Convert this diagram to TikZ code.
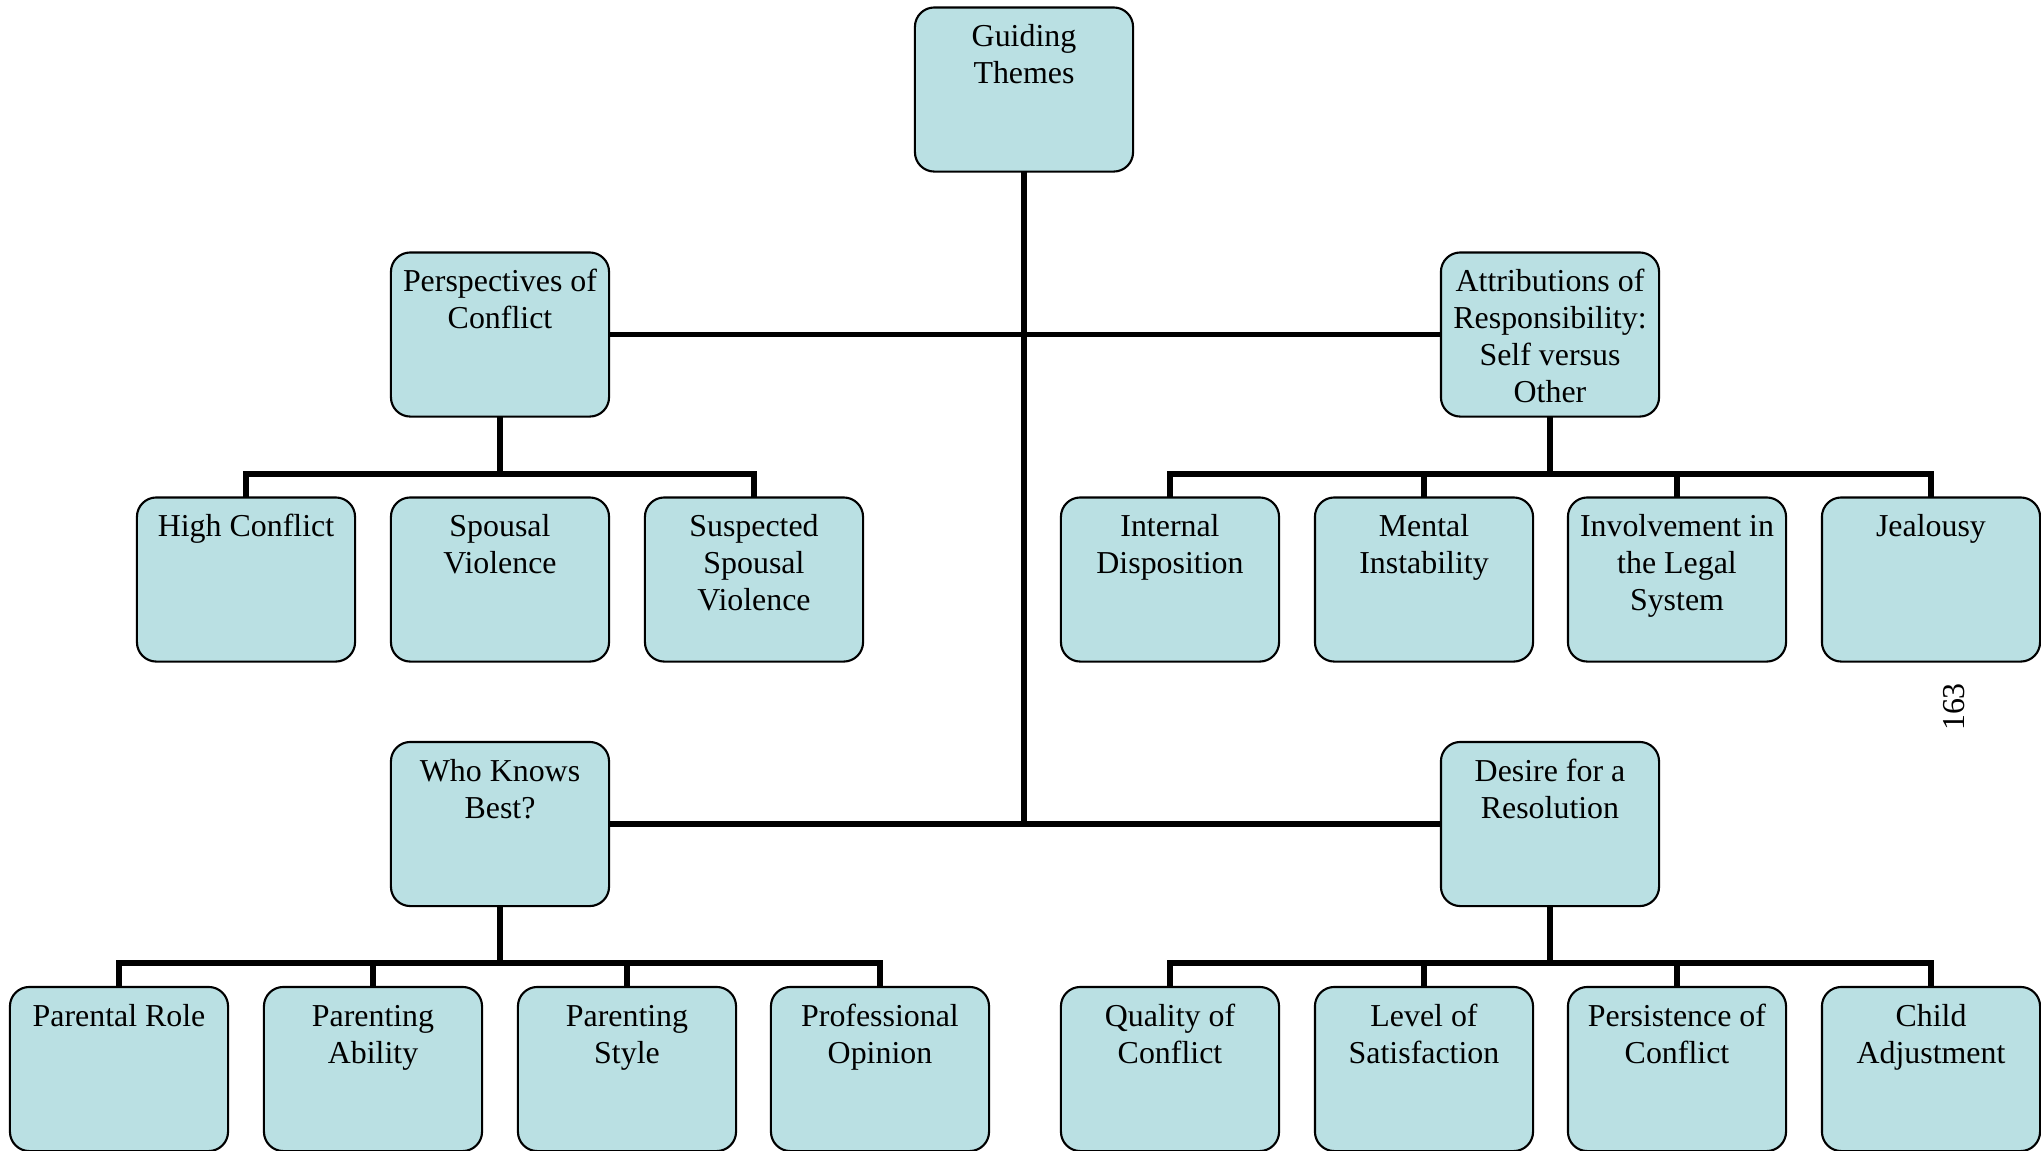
\documentclass[tikz,border=0pt]{standalone}
\usepackage{fontspec}
\setmainfont{Liberation Serif}
\usetikzlibrary{calc}
\definecolor{boxfill}{RGB}{186,224,227}
\newcommand{\boxtext}[1]{\begin{tabular}[t]{@{}c@{}}#1\end{tabular}}
\tikzset{
  box/.style={draw=black, line width=0.6pt, fill=boxfill, rounded corners=5.5pt,
    minimum width=2.18cm, minimum height=1.64cm, inner sep=0pt},
  lbl/.style={anchor=base, inner sep=0pt,
    font=\fontsize{9.07pt}{10.45pt}\selectfont},
  conn/.style={line width=1.6pt, line cap=butt}
}
\begin{document}
\begin{tikzpicture}[x=0.01cm, y=-0.01cm]
\useasboundingbox (0,0) rectangle (2041,1150);
% coordinates for buses
\coordinate (trunkB) at (1024,824);
% connectors
\draw[conn] (1024,172) -- (trunkB);
\draw[conn] (610,334.5) -- (1441,334.5);
\draw[conn] (610,824) -- (1441,824);
% Perspectives bus
\draw[conn] (500,416) -- (500,474);
\draw[conn] (246,497) -- (246,474) -- (754,474) -- (754,497);
% Attributions bus
\draw[conn] (1550,416) -- (1550,474);
\draw[conn] (1170,497) -- (1170,474) -- (1931,474) -- (1931,497);
\draw[conn] (1424,474) -- (1424,497);
\draw[conn] (1677,474) -- (1677,497);
% Who knows bus
\draw[conn] (500,906) -- (500,963);
\draw[conn] (119,987) -- (119,963) -- (880,963) -- (880,987);
\draw[conn] (373,963) -- (373,987);
\draw[conn] (627,963) -- (627,987);
% Desire bus
\draw[conn] (1550,906) -- (1550,963);
\draw[conn] (1170,987) -- (1170,963) -- (1931,963) -- (1931,987);
\draw[conn] (1424,963) -- (1424,987);
\draw[conn] (1677,963) -- (1677,987);

% boxes
\node[box] (gt) at (1024,89.5) {};
\node[box] (persp) at (500,334.5) {};
\node[box] (attr) at (1550,334.5) {};
\node[box] (who) at (500,824) {};
\node[box] (des) at (1550,824) {};
\node[box] (hc) at (246,579.5) {};
\node[box] (sv) at (500,579.5) {};
\node[box] (ssv) at (754,579.5) {};
\node[box] (id) at (1170,579.5) {};
\node[box] (mi) at (1424,579.5) {};
\node[box] (ils) at (1677,579.5) {};
\node[box] (jeal) at (1931,579.5) {};
\node[box] (pr) at (119,1069) {};
\node[box] (pa) at (373,1069) {};
\node[box] (ps) at (627,1069) {};
\node[box] (po) at (880,1069) {};
\node[box] (qc) at (1170,1069) {};
\node[box] (ls) at (1424,1069) {};
\node[box] (pc) at (1677,1069) {};
\node[box] (ca) at (1931,1069) {};

% labels
\node[lbl] (gt-t) at ($(gt.north)+(0,40.5)$) {\boxtext{Guiding\\Themes}};
\node[lbl] (persp-t) at ($(persp.north)+(0,40.5)$) {\boxtext{Perspectives of\\Conflict}};
\node[lbl] (attr-t) at ($(attr.north)+(0,40.5)$) {\boxtext{Attributions of\\Responsibility:\\Self versus\\Other}};
\node[lbl] (who-t) at ($(who.north)+(0,40.5)$) {\boxtext{Who Knows\\Best?}};
\node[lbl] (des-t) at ($(des.north)+(0,40.5)$) {\boxtext{Desire for a\\Resolution}};
\node[lbl] (hc-t) at ($(hc.north)+(0,40.5)$) {\boxtext{High Conflict}};
\node[lbl] (sv-t) at ($(sv.north)+(0,40.5)$) {\boxtext{Spousal\\Violence}};
\node[lbl] (ssv-t) at ($(ssv.north)+(0,40.5)$) {\boxtext{Suspected\\Spousal\\Violence}};
\node[lbl] (id-t) at ($(id.north)+(0,40.5)$) {\boxtext{Internal\\Disposition}};
\node[lbl] (mi-t) at ($(mi.north)+(0,40.5)$) {\boxtext{Mental\\Instability}};
\node[lbl] (ils-t) at ($(ils.north)+(0,40.5)$) {\boxtext{Involvement in\\the Legal\\System}};
\node[lbl] (jeal-t) at ($(jeal.north)+(0,40.5)$) {\boxtext{Jealousy}};
\node[lbl] (pr-t) at ($(pr.north)+(0,40.5)$) {\boxtext{Parental Role}};
\node[lbl] (pa-t) at ($(pa.north)+(0,40.5)$) {\boxtext{Parenting\\Ability}};
\node[lbl] (ps-t) at ($(ps.north)+(0,40.5)$) {\boxtext{Parenting\\Style}};
\node[lbl] (po-t) at ($(po.north)+(0,40.5)$) {\boxtext{Professional\\Opinion}};
\node[lbl] (qc-t) at ($(qc.north)+(0,40.5)$) {\boxtext{Quality of\\Conflict}};
\node[lbl] (ls-t) at ($(ls.north)+(0,40.5)$) {\boxtext{Level of\\Satisfaction}};
\node[lbl] (pc-t) at ($(pc.north)+(0,40.5)$) {\boxtext{Persistence of\\Conflict}};
\node[lbl] (ca-t) at ($(ca.north)+(0,40.5)$) {\boxtext{Child\\Adjustment}};

% page number
\node[rotate=90, inner sep=0pt, font=\fontsize{9.07pt}{10.4pt}\selectfont] (pagenum) at (1954,707) {163};
\end{tikzpicture}
\end{document}
